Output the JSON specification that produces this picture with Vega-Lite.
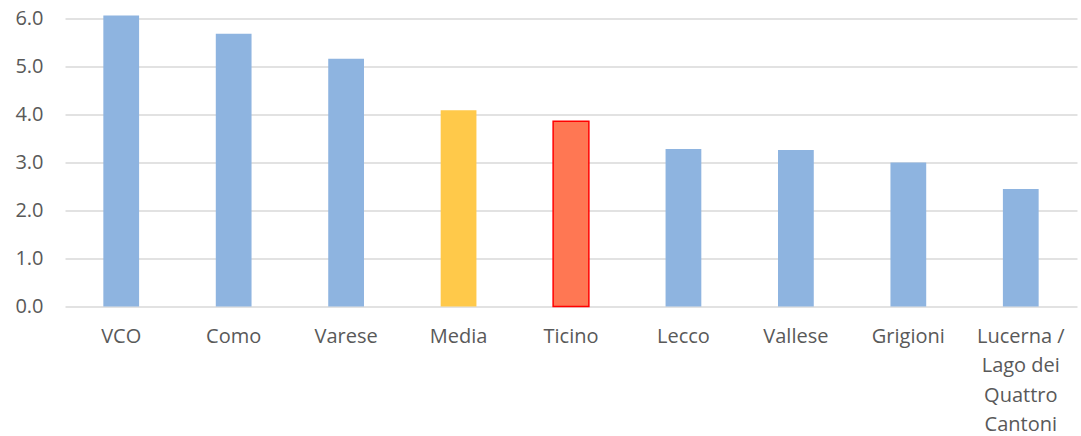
{
  "$schema": "https://vega.github.io/schema/vega-lite/v6.json",
  "autosize": {"type": "none"},
  "width": 1012,
  "height": 288,
  "padding": {"left": 65, "top": 18.5, "right": 4, "bottom": 129.5},
  "background": "white",
  "config": {"view": {"stroke": null}},
  "data": {
    "values": [
      {"regione": "VCO", "valore": 6.06},
      {"regione": "Como", "valore": 5.68},
      {"regione": "Varese", "valore": 5.16},
      {"regione": "Media", "valore": 4.09},
      {"regione": "Ticino", "valore": 3.86},
      {"regione": "Lecco", "valore": 3.28},
      {"regione": "Vallese", "valore": 3.26},
      {"regione": "Grigioni", "valore": 3.0},
      {"regione": "Lucerna / Lago dei Quattro Cantoni", "valore": 2.45}
    ]
  },
  "mark": {"type": "bar"},
  "encoding": {
    "x": {
      "field": "regione",
      "type": "nominal",
      "sort": null,
      "scale": {"paddingInner": 0.682, "paddingOuter": 0.341},
      "axis": {
        "title": null,
        "labelAngle": 0,
        "ticks": false,
        "domain": false,
        "labelFont": "Open Sans",
        "labelFontSize": 20,
        "labelColor": "#595959",
        "labelPadding": 20,
        "labelLineHeight": 29.3,
        "labelBaseline": "top",
        "labelExpr": "datum.label == 'Lucerna / Lago dei Quattro Cantoni' ? ['Lucerna /', 'Lago dei', 'Quattro', 'Cantoni'] : datum.label"
      }
    },
    "y": {
      "field": "valore",
      "type": "quantitative",
      "scale": {"domain": [0, 6], "nice": false, "zero": true},
      "axis": {
        "title": null,
        "values": [0, 1, 2, 3, 4, 5, 6],
        "format": ".1f",
        "ticks": false,
        "domain": false,
        "grid": true,
        "gridColor": "#d9d9d9",
        "gridWidth": 1.5,
        "labelFont": "Open Sans",
        "labelFontSize": 20,
        "labelColor": "#595959",
        "labelPadding": 22
      }
    },
    "color": {
      "field": "regione",
      "type": "nominal",
      "legend": null,
      "scale": {
        "domain": ["VCO", "Como", "Varese", "Media", "Ticino", "Lecco", "Vallese", "Grigioni", "Lucerna / Lago dei Quattro Cantoni"],
        "range": ["#8eb4e0", "#8eb4e0", "#8eb4e0", "#ffc94a", "#ff7753", "#8eb4e0", "#8eb4e0", "#8eb4e0", "#8eb4e0"]
      }
    },
    "stroke": {
      "condition": {"test": "datum.regione == 'Ticino'", "value": "#ff0000"},
      "value": null
    },
    "strokeWidth": {"value": 1.5},
    "opacity": {"value": 1}
  }
}
